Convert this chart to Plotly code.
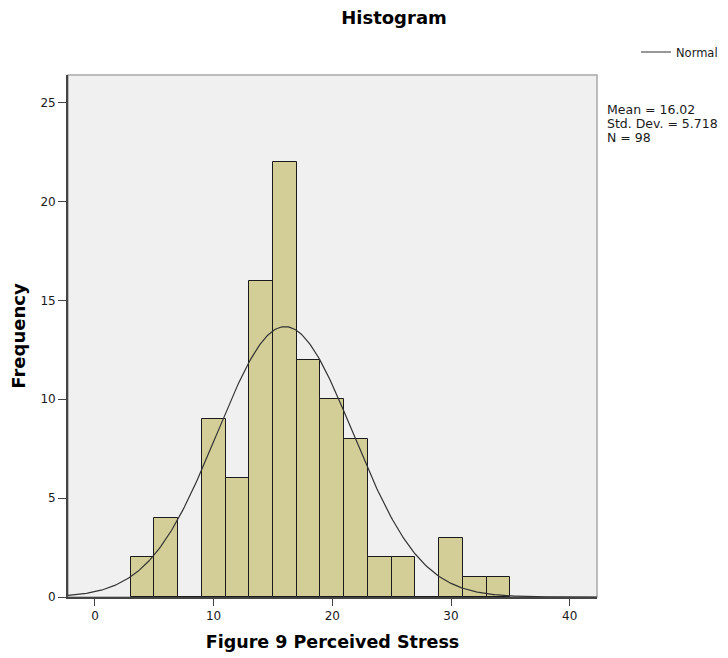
import numpy as np
import plotly.graph_objects as go

# Data
bin_starts = [3, 5, 7, 9, 11, 13, 15, 17, 19, 21, 23, 25, 27, 29, 31, 33]
counts = [2, 4, 0, 9, 6, 16, 22, 12, 10, 8, 2, 2, 0, 3, 1, 1]
bin_width = 2
mean_val = 16.02
std_val = 5.718
n_val = 98
x_ticks = [0, 10, 20, 30, 40]
y_ticks = [0, 5, 10, 15, 20, 25]
stats_lines = [f"Mean = {mean_val:.2f}", f"Std. Dev. = {std_val}", f"N = {n_val}"]

centers = [b + bin_width / 2 for b in bin_starts]

# Fitted normal curve from the reported statistics
xs = np.linspace(-2.3, 42.3, 400)
ys = n_val * bin_width * np.exp(-0.5 * ((xs - mean_val) / std_val) ** 2) / (std_val * np.sqrt(2 * np.pi))

FONT = "DejaVu Sans"
W, H = 720, 650  # page body has an 8px margin
L, R, T, B = 60, 131, 67, 61
PW, PH = W - L - R, H - T - B

fig = go.Figure()
fig.add_trace(go.Bar(
    x=centers, y=counts, width=bin_width,
    marker=dict(color="#d3ce97", line=dict(color="#1a1a1a", width=1)),
    showlegend=False, hoverinfo="x+y",
))
fig.add_trace(go.Scatter(
    x=xs, y=ys, mode="lines", name="Normal",
    line=dict(color="#333333", width=1.2),
))

fig.update_layout(
    width=W, height=H,
    margin=dict(l=L, r=R, t=T, b=B, autoexpand=False),
    paper_bgcolor="white", plot_bgcolor="#f0f0f0",
    bargap=0,
    font=dict(family=FONT, color="#1a1a1a", size=12),
    title=dict(text="<b>Histogram</b>", x=386 / W, xref="container", xanchor="center",
               y=1 - 10 / H, yref="container", yanchor="middle",
               font=dict(size=18, family=FONT, color="#000000")),
    legend=dict(xref="container", yref="container", x=628 / W, y=1 - 44 / H,
                xanchor="left", yanchor="middle",
                bgcolor="rgba(0,0,0,0)", itemwidth=30, font=dict(size=11.5)),
    showlegend=True,
)

fig.update_xaxes(
    range=[-2.27, 42.3], tickvals=x_ticks, ticks="outside", ticklen=7, tickcolor="#444444",
    showgrid=False, zeroline=False, showline=True, linecolor="#444444", linewidth=1.8,
    tickfont=dict(size=12), automargin=False,
    title=dict(text="<b>Figure 9 Perceived Stress</b>", font=dict(size=17.5, color="#000000"), standoff=13),
)
fig.update_yaxes(
    range=[0, 26.4], tickvals=y_ticks, ticks="outside", ticklen=8, tickcolor="#444444",
    showgrid=False, zeroline=False, showline=True, linecolor="#444444", linewidth=1.8,
    tickfont=dict(size=12), automargin=False,
    title=dict(text="<b>Frequency</b>", font=dict(size=18, color="#000000"), standoff=12),
)

# light frame on top and right
fig.add_shape(type="rect", xref="paper", yref="paper", x0=0, x1=1, y0=0, y1=1,
              line=dict(color="#a8a8a8", width=1.5), layer="below")

for i, line in enumerate(stats_lines):
    fig.add_annotation(
        xref="paper", yref="paper",
        x=(597 - L) / PW, y=(H - B - (101 + 14 * i)) / PH,
        xanchor="left", yanchor="middle",
        text=line, showarrow=False, align="left", font=dict(size=12.5),
    )

fig.write_html("out.html")
